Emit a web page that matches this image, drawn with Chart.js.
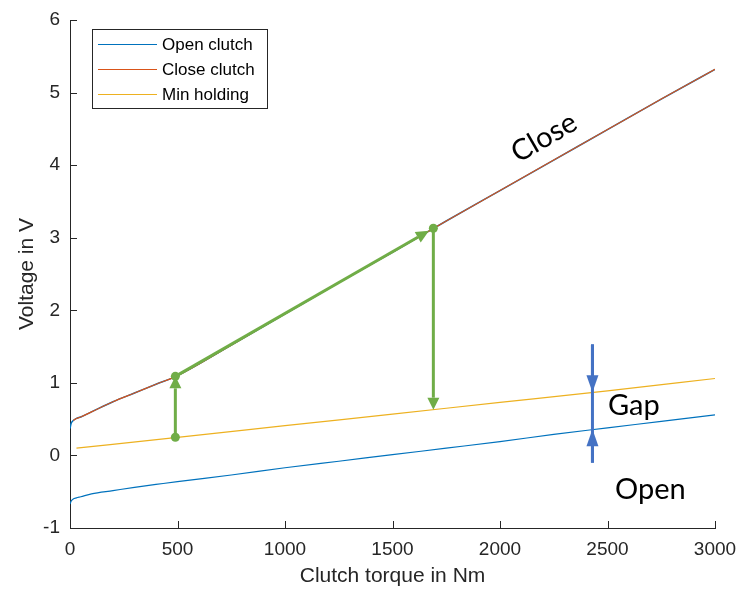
<!DOCTYPE html>
<html lang="en">
  <head>
    <meta charset="UTF-8" />
    <title>Clutch voltage vs torque</title>
    <script src="https://cdn.jsdelivr.net/npm/chart.js"></script>
    <style>
      html,
      body {
        margin: 0;
        padding: 0;
        background-color: #fff;
      }
      #chartBox {
        width: 739px;
        height: 589px;
      }
    </style>
  </head>
  <body>
    <div id="chartBox">
      <canvas id="clutchChart" width="739" height="589"></canvas>
    </div>

    <script>
      // Torque samples (Nm) for the open / close curves
      const torque = [0, 5, 15, 30, 50, 100, 200, 300, 400, 500, 750, 1000, 1250, 1500, 1750, 2000, 2250, 2500, 2750, 3000];
      const openVolt = [-0.67, -0.63, -0.6, -0.585, -0.57, -0.53, -0.485, -0.44, -0.4, -0.36, -0.27, -0.17, -0.08, 0.01, 0.1, 0.19, 0.29, 0.38, 0.47, 0.56];
      const closeVolt = [0.37, 0.44, 0.48, 0.51, 0.53, 0.6, 0.74, 0.86, 0.98, 1.1, 1.52, 1.95, 2.38, 2.8, 3.23, 3.65, 4.07, 4.49, 4.91, 5.32];

      // Min holding curve has its own torque samples
      const holdTorque = [30, 500, 1000, 1500, 2000, 2500, 3000];
      const holdVolt = [0.1, 0.25, 0.41, 0.57, 0.73, 0.89, 1.06];

      // Green switching cycle: hold -> close -> along close -> drop to hold
      const cycleTorque = [490, 490, 1690, 1690];
      const cycleVolt = [0.25, 1.09, 3.13, 0.63];

      // Blue "Gap" marker: line end, top tip, bottom tip, line end
      const gapTorque = 2430;
      const gapVolt = [1.53, 0.87, 0.36, -0.1];

      // Axis ticks
      const xTicks = [0, 500, 1000, 1500, 2000, 2500, 3000];
      const yTicks = [-1, 0, 1, 2, 3, 4, 5, 6];

      const axisColor = "#262626";
      const axisFont = '"Liberation Sans", Arial, sans-serif';
      const noteFont = 'Lato, "Open Sans", sans-serif';
      const green = "#70AD47";
      const blue = "#4472C4";

      function toPoints(xs, ys) {
        return xs.map((x, i) => ({ x: x, y: ys[i] }));
      }

      function arrow(ctx, x1, y1, x2, y2, color, width, headLen, headHalf) {
        const ang = Math.atan2(y2 - y1, x2 - x1);
        const bx = x2 - headLen * Math.cos(ang);
        const by = y2 - headLen * Math.sin(ang);
        ctx.strokeStyle = color;
        ctx.lineWidth = width;
        ctx.beginPath();
        ctx.moveTo(x1, y1);
        ctx.lineTo(bx, by);
        ctx.stroke();
        ctx.fillStyle = color;
        ctx.beginPath();
        ctx.moveTo(x2, y2);
        ctx.lineTo(bx + headHalf * Math.sin(ang), by - headHalf * Math.cos(ang));
        ctx.lineTo(bx - headHalf * Math.sin(ang), by + headHalf * Math.cos(ang));
        ctx.closePath();
        ctx.fill();
      }

      function dot(ctx, x, y, r, color) {
        ctx.fillStyle = color;
        ctx.beginPath();
        ctx.arc(x, y, r, 0, Math.PI * 2);
        ctx.fill();
      }

      // Inward tick marks, MATLAB style
      const tickPlugin = {
        id: "inwardTicks",
        afterDraw(chart) {
          const { ctx, chartArea, scales } = chart;
          ctx.save();
          ctx.strokeStyle = axisColor;
          ctx.lineWidth = 1;
          ctx.beginPath();
          xTicks.forEach((v) => {
            const px = Math.round(scales.x.getPixelForValue(v)) + 0.5;
            ctx.moveTo(px, chartArea.bottom);
            ctx.lineTo(px, chartArea.bottom - 7);
          });
          yTicks.forEach((v) => {
            const py = Math.round(scales.y.getPixelForValue(v)) + 0.5;
            ctx.moveTo(chartArea.left, py);
            ctx.lineTo(chartArea.left + 7, py);
          });
          ctx.stroke();
          ctx.restore();
        },
      };

      // Arrows, dots and the hand-written labels
      const notesPlugin = {
        id: "notes",
        afterDatasetsDraw(chart) {
          const { ctx, scales } = chart;
          const X = (v) => scales.x.getPixelForValue(v);
          const Y = (v) => scales.y.getPixelForValue(v);
          ctx.save();
          ctx.lineCap = "butt";

          // green cycle
          const p = cycleTorque.map((t, i) => [X(t), Y(cycleVolt[i])]);
          arrow(ctx, p[0][0], p[0][1], p[1][0], p[1][1], green, 3, 12, 6);
          const ang = Math.atan2(p[2][1] - p[1][1], p[2][0] - p[1][0]);
          arrow(ctx, p[1][0], p[1][1], p[2][0] - 5 * Math.cos(ang), p[2][1] - 5 * Math.sin(ang), green, 3, 13, 6);
          arrow(ctx, p[2][0], p[2][1], p[3][0], p[3][1], green, 3, 12, 6);
          dot(ctx, p[0][0], p[0][1], 4.5, green);
          dot(ctx, p[1][0], p[1][1], 4.5, green);
          dot(ctx, p[2][0], p[2][1], 4.5, green);

          // blue gap marker
          const gx = X(gapTorque);
          ctx.strokeStyle = blue;
          ctx.lineWidth = 3;
          ctx.beginPath();
          ctx.moveTo(gx, Y(gapVolt[0]));
          ctx.lineTo(gx, Y(gapVolt[3]));
          ctx.stroke();
          arrow(ctx, gx, Y(gapVolt[0]), gx, Y(gapVolt[1]), blue, 3, 17, 6);
          arrow(ctx, gx, Y(gapVolt[3]), gx, Y(gapVolt[2]), blue, 3, 17, 6);

          // labels
          ctx.fillStyle = "#000";
          ctx.font = "29px " + noteFont;
          ctx.textAlign = "left";
          ctx.textBaseline = "alphabetic";
          ctx.fillText("Gap", X(2502), Y(0.557));
          ctx.fillText("Open", X(2535), Y(-0.6));
          ctx.save();
          ctx.translate(X(2205), Y(4.38));
          ctx.rotate((-30 * Math.PI) / 180);
          ctx.textAlign = "center";
          ctx.textBaseline = "middle";
          ctx.fillText("Close", 0, 0);
          ctx.restore();
          ctx.restore();
        },
      };

      // Boxed legend in the top-left corner of the axes
      const legendItems = [
        { label: "Open clutch", color: "#0072BD" },
        { label: "Close clutch", color: "#D95319" },
        { label: "Min holding", color: "#EDB120" },
      ];
      const boxLegendPlugin = {
        id: "boxLegend",
        afterDraw(chart) {
          const { ctx, chartArea } = chart;
          const left = chartArea.left + 22;
          const top = chartArea.top + 9;
          ctx.save();
          ctx.fillStyle = "#fff";
          ctx.fillRect(left, top, 175, 79);
          ctx.strokeStyle = axisColor;
          ctx.lineWidth = 1;
          ctx.strokeRect(left + 0.5, top + 0.5, 175, 79);
          ctx.font = "17px " + axisFont;
          ctx.textBaseline = "middle";
          ctx.textAlign = "left";
          legendItems.forEach((d, i) => {
            const y = top + 15.5 + i * 25;
            ctx.strokeStyle = d.color;
            ctx.lineWidth = 1.2;
            ctx.beginPath();
            ctx.moveTo(left + 6, y);
            ctx.lineTo(left + 65, y);
            ctx.stroke();
            ctx.fillStyle = "#000";
            ctx.fillText(d.label, left + 70, y + 1);
          });
          ctx.restore();
        },
      };

      const ctx = document.getElementById("clutchChart").getContext("2d");
      new Chart(ctx, {
        type: "line",
        data: {
          datasets: [
            {
              label: "Open clutch",
              data: toPoints(torque, openVolt),
              borderColor: "#0072BD",
              order: 3,
            },
            {
              label: "Close clutch",
              data: toPoints(torque, closeVolt).slice(2),
              borderColor: "#D95319",
              order: 1,
            },
            {
              label: "Close (open colour underlay)",
              data: toPoints(torque, closeVolt),
              borderColor: "#0072BD",
              borderWidth: 1.5,
              order: 2,
            },
            {
              label: "Min holding",
              data: toPoints(holdTorque, holdVolt),
              borderColor: "#EDB120",
              order: 0,
            },
          ],
        },
        options: {
          responsive: false,
          devicePixelRatio: 1,
          animation: false,
          elements: {
            line: { borderWidth: 1.2, cubicInterpolationMode: "monotone", fill: false },
            point: { radius: 0, hoverRadius: 0 },
          },
          layout: { padding: { top: 20, right: 24, left: 0, bottom: 0 } },
          plugins: {
            legend: { display: false },
            tooltip: { enabled: false },
          },
          scales: {
            x: {
              type: "linear",
              min: 0,
              max: 3000,
              afterBuildTicks: (s) => {
                s.ticks = xTicks.map((v) => ({ value: v }));
              },
              afterFit: (s) => {
                s.height = 61;
                s.paddingLeft = 0;
                s.paddingRight = 0;
              },
              grid: { display: false, drawTicks: false },
              border: { display: true, color: axisColor, width: 1 },
              ticks: {
                color: axisColor,
                font: { family: axisFont, size: 19 },
                padding: 10,
                maxRotation: 0,
                autoSkip: false,
                callback: (v) => String(v),
              },
              title: {
                display: true,
                text: "Clutch torque in Nm",
                color: axisColor,
                font: { family: axisFont, size: 21 },
                padding: { top: 0, bottom: 0 },
              },
            },
            y: {
              type: "linear",
              min: -1,
              max: 6,
              afterBuildTicks: (s) => {
                s.ticks = yTicks.map((v) => ({ value: v }));
              },
              afterFit: (s) => {
                s.width = 70;
                s.paddingTop = 0;
                s.paddingBottom = 0;
              },
              grid: { display: false, drawTicks: false },
              border: { display: true, color: axisColor, width: 1 },
              ticks: {
                color: axisColor,
                font: { family: axisFont, size: 19 },
                padding: 10,
                callback: (v) => String(v),
              },
              title: {
                display: true,
                text: "Voltage in V",
                color: axisColor,
                font: { family: axisFont, size: 21 },
                padding: { top: 15, bottom: 0 },
              },
            },
          },
        },
        plugins: [tickPlugin, notesPlugin, boxLegendPlugin],
      });
    </script>
  </body>
</html>
